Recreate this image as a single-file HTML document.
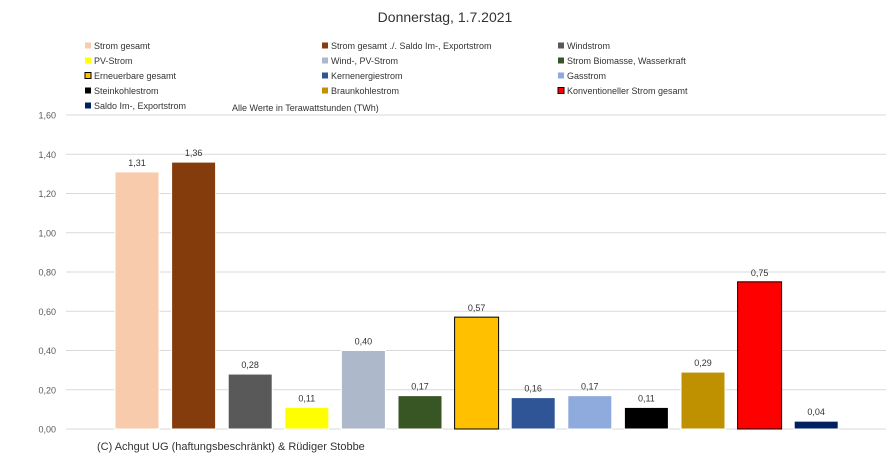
<!DOCTYPE html>
<html><head><meta charset="utf-8"><style>
body{margin:0;background:#fff;}
svg{display:block;font-family:"Liberation Sans",sans-serif;}
</style></head><body>
<svg id="c" width="890" height="464" viewBox="0 0 890 464">
<rect width="890" height="464" fill="#fff"/>
<text x="445" y="22" text-anchor="middle" font-size="14" fill="#333">Donnerstag, 1.7.2021</text>
<g id="legend"></g>
<text x="232" y="111" font-size="9" fill="#333">Alle Werte in Terawattstunden (TWh)</text>
<g id="grid"></g><g id="bars"></g>
<text x="97" y="450" font-size="11" fill="#333">(C) Achgut UG (haftungsbeschränkt) &amp; Rüdiger Stobbe</text>
</svg>
<script>
const categories=["Strom gesamt","Strom gesamt ./. Saldo Im-, Exportstrom","Windstrom","PV-Strom","Wind-, PV-Strom","Strom Biomasse, Wasserkraft","Erneuerbare gesamt","Kernenergiestrom","Gasstrom","Steinkohlestrom","Braunkohlestrom","Konventioneller Strom gesamt","Saldo Im-, Exportstrom"];
const values=[1.31,1.36,0.28,0.11,0.40,0.17,0.57,0.16,0.17,0.11,0.29,0.75,0.04];
const colors=["#f8cbad","#843c0c","#595959","#ffff00","#adb9ca","#375623","#ffc000","#2f5597","#8faadc","#000000","#bf9000","#ff0000","#002060"];
const outlined=[6,11];
const ticks=[0,0.2,0.4,0.6,0.8,1.0,1.2,1.4,1.6];
const NS="http://www.w3.org/2000/svg";
function mk(t,a,p){const e=document.createElementNS(NS,t);for(const k in a)e.setAttribute(k,a[k]);p.appendChild(e);return e;}
const y=v=>429-v*196.25, x=i=>137+i*56.6;
const fmt=v=>v.toFixed(2).replace('.',',');
const g=document.getElementById('grid');
ticks.forEach(t=>{
 const l=mk('line',{x1:66,x2:886,y1:y(t),y2:y(t),stroke:'#d9d9d9','stroke-width':1},g);
 
 
 const tx=mk('text',{x:56,y:y(t)+3.5,'text-anchor':'end','font-size':9,fill:'#595959'},g);
 tx.textContent=fmt(t);
 
 
});
const b=document.getElementById('bars');
values.forEach((v,i)=>{
 const o=outlined.includes(i);
 const r=mk('rect',{x:x(i)-22,y:y(v),width:44,height:429-y(v),fill:colors[i],stroke:o?'#000':'#fff','stroke-width':o?1:1},b);
 
 
 const t=mk('text',{x:x(i),y:y(v)-6,'text-anchor':'middle','font-size':9,fill:'#333'},b);
 t.textContent=fmt(v);
 
 
});
const lg=document.getElementById('legend');
const cols=[85,322,558];
categories.forEach((c,i)=>{
 const cx=cols[i%3], cy=46+Math.floor(i/3)*15;
 const o=outlined.includes(i);
 const s=mk('rect',{x:cx,y:cy-3.5,width:6,height:6,fill:colors[i],stroke:o?'#000':'none','stroke-width':1},lg);
 
 
 const t=mk('text',{x:cx+9,y:cy+3,'font-size':9,fill:'#333'},lg);
 t.textContent=c;
 
 
});
</script>
</body></html>
